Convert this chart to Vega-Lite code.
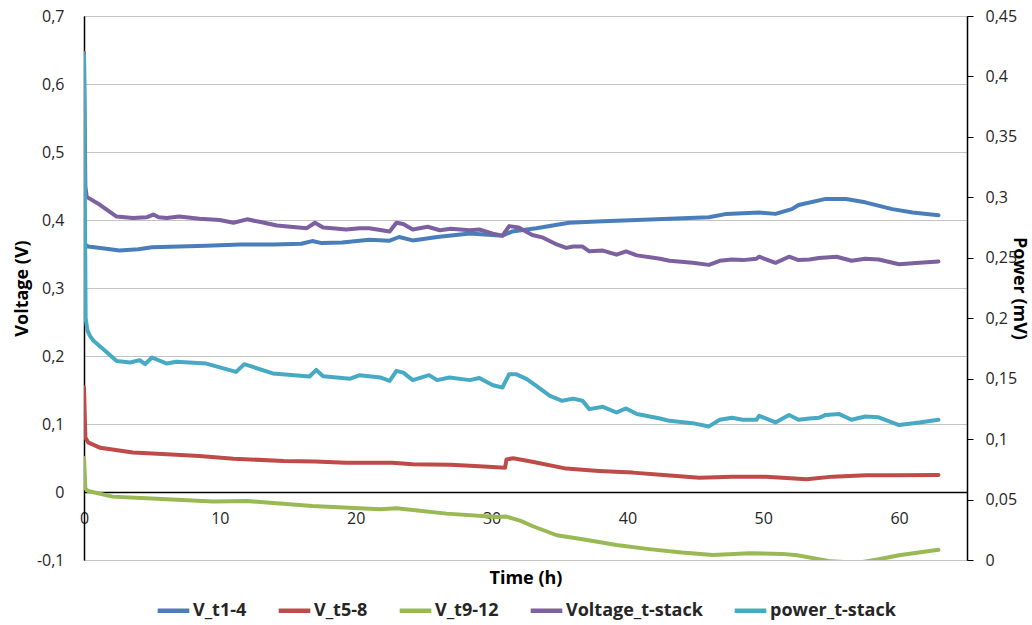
{
 "$schema": "https://vega.github.io/schema/vega-lite/v6.json",
 "width": 883,
 "height": 544,
 "autosize": {"type": "none"},
 "padding": {"left": 84, "top": 16, "right": 65, "bottom": 65},
 "config": {
  "locale": {"number": {"decimal": ",", "thousands": ".", "grouping": [3], "currency": ["", " €"], "minus": "-"}},
  "font": "Open Sans",
  "view": {"stroke": "#333333", "strokeWidth": 1},
  "axis": {"labelFont": "Open Sans", "labelFontSize": 16, "labelColor": "#262626", "titleFont": "Open Sans", "titleFontSize": 18, "titleFontWeight": "bold", "titleColor": "#000000"}
 },
 "datasets": {
  "main": [
   {"t":0,"v":0.365,"s":"V_t1-4"},{"t":0.3,"v":0.361,"s":"V_t1-4"},{"t":1.5,"v":0.358,"s":"V_t1-4"},{"t":2.6,"v":0.355,"s":"V_t1-4"},{"t":4,"v":0.357,"s":"V_t1-4"},{"t":5,"v":0.36,"s":"V_t1-4"},{"t":7,"v":0.361,"s":"V_t1-4"},{"t":9,"v":0.362,"s":"V_t1-4"},{"t":11.5,"v":0.364,"s":"V_t1-4"},{"t":14,"v":0.364,"s":"V_t1-4"},{"t":16,"v":0.365,"s":"V_t1-4"},{"t":16.8,"v":0.369,"s":"V_t1-4"},{"t":17.5,"v":0.366,"s":"V_t1-4"},{"t":19,"v":0.367,"s":"V_t1-4"},{"t":21,"v":0.371,"s":"V_t1-4"},{"t":22.5,"v":0.3696,"s":"V_t1-4"},{"t":23.2,"v":0.375,"s":"V_t1-4"},{"t":24.2,"v":0.37,"s":"V_t1-4"},{"t":26,"v":0.375,"s":"V_t1-4"},{"t":28.4,"v":0.38,"s":"V_t1-4"},{"t":30.8,"v":0.377,"s":"V_t1-4"},{"t":31.5,"v":0.383,"s":"V_t1-4"},{"t":33.3,"v":0.388,"s":"V_t1-4"},{"t":35.7,"v":0.396,"s":"V_t1-4"},{"t":38.2,"v":0.398,"s":"V_t1-4"},{"t":40.7,"v":0.4,"s":"V_t1-4"},{"t":43.1,"v":0.402,"s":"V_t1-4"},{"t":46,"v":0.404,"s":"V_t1-4"},{"t":47.3,"v":0.409,"s":"V_t1-4"},{"t":49.7,"v":0.411,"s":"V_t1-4"},{"t":50.9,"v":0.409,"s":"V_t1-4"},{"t":52.1,"v":0.416,"s":"V_t1-4"},{"t":52.6,"v":0.422,"s":"V_t1-4"},{"t":54.6,"v":0.431,"s":"V_t1-4"},{"t":56.1,"v":0.431,"s":"V_t1-4"},{"t":57.5,"v":0.426,"s":"V_t1-4"},{"t":59.5,"v":0.416,"s":"V_t1-4"},{"t":61,"v":0.411,"s":"V_t1-4"},{"t":62.9,"v":0.407,"s":"V_t1-4"},

   {"t":0,"v":0.154,"s":"V_t5-8"},{"t":0.1,"v":0.08,"s":"V_t5-8"},{"t":0.3,"v":0.073,"s":"V_t5-8"},{"t":1.2,"v":0.065,"s":"V_t5-8"},{"t":3.6,"v":0.058,"s":"V_t5-8"},{"t":6.1,"v":0.0554,"s":"V_t5-8"},{"t":8.5,"v":0.053,"s":"V_t5-8"},{"t":11,"v":0.049,"s":"V_t5-8"},{"t":14.7,"v":0.0456,"s":"V_t5-8"},{"t":17,"v":0.045,"s":"V_t5-8"},{"t":19.3,"v":0.043,"s":"V_t5-8"},{"t":22.7,"v":0.043,"s":"V_t5-8"},{"t":24.2,"v":0.0407,"s":"V_t5-8"},{"t":27,"v":0.04,"s":"V_t5-8"},{"t":29.1,"v":0.038,"s":"V_t5-8"},{"t":31,"v":0.0358,"s":"V_t5-8"},{"t":31.1,"v":0.048,"s":"V_t5-8"},{"t":31.6,"v":0.0495,"s":"V_t5-8"},{"t":33,"v":0.0446,"s":"V_t5-8"},{"t":35.5,"v":0.0344,"s":"V_t5-8"},{"t":37.9,"v":0.031,"s":"V_t5-8"},{"t":40.4,"v":0.0285,"s":"V_t5-8"},{"t":42.9,"v":0.0245,"s":"V_t5-8"},{"t":45.3,"v":0.021,"s":"V_t5-8"},{"t":47.7,"v":0.0226,"s":"V_t5-8"},{"t":50.2,"v":0.0226,"s":"V_t5-8"},{"t":53.2,"v":0.0187,"s":"V_t5-8"},{"t":55.1,"v":0.0226,"s":"V_t5-8"},{"t":57.6,"v":0.0245,"s":"V_t5-8"},{"t":60,"v":0.0245,"s":"V_t5-8"},{"t":62.9,"v":0.025,"s":"V_t5-8"},

   {"t":0,"v":0.05,"s":"V_t9-12"},{"t":0.1,"v":0.005,"s":"V_t9-12"},{"t":0.3,"v":0.0015,"s":"V_t9-12"},{"t":2.1,"v":-0.0068,"s":"V_t9-12"},{"t":4.6,"v":-0.0093,"s":"V_t9-12"},{"t":9.5,"v":-0.0141,"s":"V_t9-12"},{"t":12,"v":-0.0132,"s":"V_t9-12"},{"t":16.8,"v":-0.0205,"s":"V_t9-12"},{"t":21.8,"v":-0.0254,"s":"V_t9-12"},{"t":23,"v":-0.024,"s":"V_t9-12"},{"t":26.7,"v":-0.0318,"s":"V_t9-12"},{"t":30.4,"v":-0.0367,"s":"V_t9-12"},{"t":31.1,"v":-0.0362,"s":"V_t9-12"},{"t":32.1,"v":-0.042,"s":"V_t9-12"},{"t":33,"v":-0.05,"s":"V_t9-12"},{"t":34.8,"v":-0.0636,"s":"V_t9-12"},{"t":36.7,"v":-0.0695,"s":"V_t9-12"},{"t":39.2,"v":-0.078,"s":"V_t9-12"},{"t":41.6,"v":-0.084,"s":"V_t9-12"},{"t":44,"v":-0.089,"s":"V_t9-12"},{"t":46.3,"v":-0.0925,"s":"V_t9-12"},{"t":49,"v":-0.09,"s":"V_t9-12"},{"t":51.4,"v":-0.091,"s":"V_t9-12"},{"t":52.5,"v":-0.093,"s":"V_t9-12"},{"t":53.9,"v":-0.098,"s":"V_t9-12"},{"t":55,"v":-0.102,"s":"V_t9-12"},{"t":57,"v":-0.104,"s":"V_t9-12"},{"t":58.5,"v":-0.099,"s":"V_t9-12"},{"t":60,"v":-0.093,"s":"V_t9-12"},{"t":62.9,"v":-0.085,"s":"V_t9-12"},

   {"t":0,"v":0.646,"s":"Voltage_t-stack"},{"t":0.1,"v":0.45,"s":"Voltage_t-stack"},{"t":0.2,"v":0.434,"s":"Voltage_t-stack"},{"t":1.2,"v":0.422,"s":"Voltage_t-stack"},{"t":2.4,"v":0.405,"s":"Voltage_t-stack"},{"t":3.6,"v":0.403,"s":"Voltage_t-stack"},{"t":4.6,"v":0.404,"s":"Voltage_t-stack"},{"t":5.1,"v":0.408,"s":"Voltage_t-stack"},{"t":5.5,"v":0.404,"s":"Voltage_t-stack"},{"t":6.1,"v":0.403,"s":"Voltage_t-stack"},{"t":7,"v":0.405,"s":"Voltage_t-stack"},{"t":8.5,"v":0.402,"s":"Voltage_t-stack"},{"t":10,"v":0.4,"s":"Voltage_t-stack"},{"t":11,"v":0.396,"s":"Voltage_t-stack"},{"t":12,"v":0.401,"s":"Voltage_t-stack"},{"t":13,"v":0.397,"s":"Voltage_t-stack"},{"t":14.2,"v":0.392,"s":"Voltage_t-stack"},{"t":16.4,"v":0.388,"s":"Voltage_t-stack"},{"t":17,"v":0.396,"s":"Voltage_t-stack"},{"t":17.6,"v":0.389,"s":"Voltage_t-stack"},{"t":18.3,"v":0.388,"s":"Voltage_t-stack"},{"t":19.3,"v":0.386,"s":"Voltage_t-stack"},{"t":20.3,"v":0.388,"s":"Voltage_t-stack"},{"t":21,"v":0.388,"s":"Voltage_t-stack"},{"t":22.5,"v":0.383,"s":"Voltage_t-stack"},{"t":23,"v":0.396,"s":"Voltage_t-stack"},{"t":23.5,"v":0.394,"s":"Voltage_t-stack"},{"t":24.2,"v":0.386,"s":"Voltage_t-stack"},{"t":25.3,"v":0.39,"s":"Voltage_t-stack"},{"t":26.2,"v":0.385,"s":"Voltage_t-stack"},{"t":27,"v":0.387,"s":"Voltage_t-stack"},{"t":28.4,"v":0.385,"s":"Voltage_t-stack"},{"t":29.1,"v":0.386,"s":"Voltage_t-stack"},{"t":30.1,"v":0.38,"s":"Voltage_t-stack"},{"t":30.8,"v":0.377,"s":"Voltage_t-stack"},{"t":31.3,"v":0.391,"s":"Voltage_t-stack"},{"t":32,"v":0.389,"s":"Voltage_t-stack"},{"t":33,"v":0.378,"s":"Voltage_t-stack"},{"t":33.8,"v":0.374,"s":"Voltage_t-stack"},{"t":34.8,"v":0.364,"s":"Voltage_t-stack"},{"t":35.5,"v":0.359,"s":"Voltage_t-stack"},{"t":36,"v":0.361,"s":"Voltage_t-stack"},{"t":36.7,"v":0.361,"s":"Voltage_t-stack"},{"t":37.2,"v":0.354,"s":"Voltage_t-stack"},{"t":38.2,"v":0.355,"s":"Voltage_t-stack"},{"t":39.2,"v":0.349,"s":"Voltage_t-stack"},{"t":39.9,"v":0.354,"s":"Voltage_t-stack"},{"t":40.7,"v":0.348,"s":"Voltage_t-stack"},{"t":42.4,"v":0.343,"s":"Voltage_t-stack"},{"t":43.1,"v":0.34,"s":"Voltage_t-stack"},{"t":44.8,"v":0.337,"s":"Voltage_t-stack"},{"t":46,"v":0.334,"s":"Voltage_t-stack"},{"t":46.8,"v":0.34,"s":"Voltage_t-stack"},{"t":47.7,"v":0.342,"s":"Voltage_t-stack"},{"t":48.5,"v":0.341,"s":"Voltage_t-stack"},{"t":49.5,"v":0.343,"s":"Voltage_t-stack"},{"t":49.7,"v":0.346,"s":"Voltage_t-stack"},{"t":50.9,"v":0.337,"s":"Voltage_t-stack"},{"t":51.9,"v":0.346,"s":"Voltage_t-stack"},{"t":52.6,"v":0.341,"s":"Voltage_t-stack"},{"t":53.4,"v":0.342,"s":"Voltage_t-stack"},{"t":54.1,"v":0.344,"s":"Voltage_t-stack"},{"t":55.4,"v":0.346,"s":"Voltage_t-stack"},{"t":56.5,"v":0.34,"s":"Voltage_t-stack"},{"t":57.5,"v":0.343,"s":"Voltage_t-stack"},{"t":58.5,"v":0.342,"s":"Voltage_t-stack"},{"t":60,"v":0.335,"s":"Voltage_t-stack"},{"t":61.5,"v":0.337,"s":"Voltage_t-stack"},{"t":62.9,"v":0.339,"s":"Voltage_t-stack"},

   {"t":0,"v":0.418,"s":"power_t-stack"},{"t":0.12,"v":0.2,"s":"power_t-stack"},{"t":0.25,"v":0.19,"s":"power_t-stack"},{"t":0.44,"v":0.1854,"s":"power_t-stack"},{"t":0.7,"v":0.1813,"s":"power_t-stack"},{"t":1.7,"v":0.1716,"s":"power_t-stack"},{"t":2.4,"v":0.1647,"s":"power_t-stack"},{"t":3.4,"v":0.1634,"s":"power_t-stack"},{"t":4.1,"v":0.1653,"s":"power_t-stack"},{"t":4.5,"v":0.162,"s":"power_t-stack"},{"t":5,"v":0.1675,"s":"power_t-stack"},{"t":6.1,"v":0.1625,"s":"power_t-stack"},{"t":6.8,"v":0.164,"s":"power_t-stack"},{"t":9,"v":0.1625,"s":"power_t-stack"},{"t":11.2,"v":0.1556,"s":"power_t-stack"},{"t":11.8,"v":0.162,"s":"power_t-stack"},{"t":13.9,"v":0.1543,"s":"power_t-stack"},{"t":16.6,"v":0.1518,"s":"power_t-stack"},{"t":17.1,"v":0.1573,"s":"power_t-stack"},{"t":17.6,"v":0.152,"s":"power_t-stack"},{"t":19.6,"v":0.15,"s":"power_t-stack"},{"t":20.3,"v":0.1529,"s":"power_t-stack"},{"t":21.8,"v":0.151,"s":"power_t-stack"},{"t":22.5,"v":0.1482,"s":"power_t-stack"},{"t":23,"v":0.1565,"s":"power_t-stack"},{"t":23.5,"v":0.155,"s":"power_t-stack"},{"t":24.2,"v":0.1488,"s":"power_t-stack"},{"t":25.4,"v":0.1529,"s":"power_t-stack"},{"t":26,"v":0.1488,"s":"power_t-stack"},{"t":26.9,"v":0.151,"s":"power_t-stack"},{"t":28.4,"v":0.1488,"s":"power_t-stack"},{"t":29.1,"v":0.1505,"s":"power_t-stack"},{"t":30.1,"v":0.1446,"s":"power_t-stack"},{"t":30.8,"v":0.1427,"s":"power_t-stack"},{"t":31.3,"v":0.1537,"s":"power_t-stack"},{"t":31.8,"v":0.1537,"s":"power_t-stack"},{"t":32.6,"v":0.1496,"s":"power_t-stack"},{"t":33.3,"v":0.144,"s":"power_t-stack"},{"t":34.3,"v":0.1358,"s":"power_t-stack"},{"t":35.2,"v":0.1317,"s":"power_t-stack"},{"t":36,"v":0.1335,"s":"power_t-stack"},{"t":36.7,"v":0.1317,"s":"power_t-stack"},{"t":37.2,"v":0.1248,"s":"power_t-stack"},{"t":38.2,"v":0.1267,"s":"power_t-stack"},{"t":39.2,"v":0.122,"s":"power_t-stack"},{"t":39.9,"v":0.1254,"s":"power_t-stack"},{"t":40.7,"v":0.1207,"s":"power_t-stack"},{"t":42.4,"v":0.1171,"s":"power_t-stack"},{"t":43.1,"v":0.1151,"s":"power_t-stack"},{"t":44.8,"v":0.1132,"s":"power_t-stack"},{"t":46,"v":0.1105,"s":"power_t-stack"},{"t":46.8,"v":0.116,"s":"power_t-stack"},{"t":47.7,"v":0.1176,"s":"power_t-stack"},{"t":48.5,"v":0.116,"s":"power_t-stack"},{"t":49.5,"v":0.116,"s":"power_t-stack"},{"t":49.7,"v":0.1193,"s":"power_t-stack"},{"t":50.9,"v":0.1138,"s":"power_t-stack"},{"t":51.9,"v":0.12,"s":"power_t-stack"},{"t":52.6,"v":0.116,"s":"power_t-stack"},{"t":53.4,"v":0.117,"s":"power_t-stack"},{"t":54.1,"v":0.1176,"s":"power_t-stack"},{"t":54.6,"v":0.12,"s":"power_t-stack"},{"t":55.6,"v":0.1207,"s":"power_t-stack"},{"t":56.5,"v":0.116,"s":"power_t-stack"},{"t":57.5,"v":0.1187,"s":"power_t-stack"},{"t":58.5,"v":0.118,"s":"power_t-stack"},{"t":60,"v":0.1116,"s":"power_t-stack"},{"t":61.5,"v":0.1138,"s":"power_t-stack"},{"t":62.9,"v":0.116,"s":"power_t-stack"}
  ]
 },
 "data": {"name": "main"},
 "encoding": {
  "x": {"field": "t", "type": "quantitative", "scale": {"domain": [0, 65], "nice": false, "zero": false},
   "axis": {"title": "Time (h)", "values": [0, 10, 20, 30, 40, 50, 60], "offset": -68, "ticks": false, "grid": false, "domainColor": "#000000", "domainWidth": 1.5, "labelPadding": 18, "titleY": 86, "titleBaseline": "middle", "labelFlush": false}}
 },
 "layer": [
  {
   "transform": [{"filter": "datum.s != 'power_t-stack'"}],
   "mark": {"type": "line", "strokeWidth": 4, "clip": true, "strokeCap": "round", "strokeJoin": "round"},
   "encoding": {
    "y": {"field": "v", "type": "quantitative", "scale": {"domain": [-0.1, 0.7], "nice": false, "zero": false},
     "axis": {"title": "Voltage (V)", "values": [-0.1, 0, 0.1, 0.2, 0.3, 0.4, 0.5, 0.6, 0.7], "format": ".1~f", "ticks": false, "grid": true, "gridColor": "#c4c4c4", "gridWidth": 1, "domainColor": "#000000", "domainWidth": 1.5, "labelPadding": 20, "titleX": -62, "titleBaseline": "middle", "labelFlush": false}},
    "color": {"field": "s", "type": "nominal",
     "scale": {"domain": ["V_t1-4", "V_t5-8", "V_t9-12", "Voltage_t-stack", "power_t-stack"], "range": ["#4A7EBB", "#BE4B48", "#98B954", "#7D60A0", "#46AAC5"]},
     "legend": {"orient": "none", "legendX": 71, "legendY": 576, "direction": "horizontal", "title": null, "symbolType": "stroke", "symbolSize": 1000, "symbolStrokeWidth": 4.5, "labelFont": "Open Sans", "labelFontSize": 18, "labelFontWeight": "bold", "labelColor": "#262626", "labelOffset": 1, "columnPadding": 22}}
   }
  },
  {
   "transform": [{"filter": "datum.s == 'power_t-stack'"}],
   "mark": {"type": "line", "strokeWidth": 4, "clip": true, "strokeCap": "round", "strokeJoin": "round"},
   "encoding": {
    "y": {"field": "v", "type": "quantitative", "scale": {"domain": [0, 0.45], "nice": false, "zero": false},
     "axis": {"orient": "right", "title": "Power (mV)", "values": [0, 0.05, 0.1, 0.15, 0.2, 0.25, 0.3, 0.35, 0.4, 0.45], "format": ".2~f", "grid": false, "ticks": true, "tickSize": 6, "tickColor": "#000000", "domainColor": "#000000", "domainWidth": 1.5, "labelPadding": 12, "titleX": 51, "titleBaseline": "middle", "labelFlush": false}},
    "color": {"field": "s", "type": "nominal"}
   }
  }
 ],
 "resolve": {"scale": {"y": "independent"}}
}
